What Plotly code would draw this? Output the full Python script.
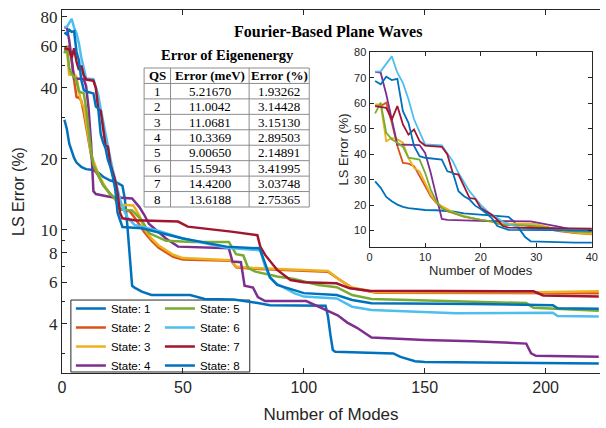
import plotly.graph_objects as go

# ---------------- data ----------------
s1_x = [1, 2, 3, 4, 5, 6, 7, 8, 9, 10, 12, 13, 15, 17, 20, 22, 25, 26, 27, 28, 29, 30, 33, 37, 53, 59, 71, 81, 86, 109, 110, 111, 112, 113, 125, 137, 140, 146, 150, 180, 222]
s1_y = [29.3, 26.8, 23.2, 21.5, 20.2, 19.3, 18.8, 18.5, 18.3, 18.1, 18.0, 17.9, 17.5, 16.8, 16.2, 16.0, 15.4, 13.5, 10.5, 7.5, 5.8, 5.7, 5.48, 5.3, 5.3, 5.1, 5.08, 4.9, 4.8, 4.78, 4.3, 3.6, 3.1, 3.05, 3.03, 3.0, 2.9, 2.78, 2.76, 2.75, 2.72]

s2_x = [1, 2, 3, 4, 5, 6, 7, 8, 9, 10, 11, 12, 13, 14, 15, 17, 20, 22, 24, 28, 30, 34, 37, 40, 46, 50, 70, 72, 79, 110, 115, 120, 130, 222]
s2_y = [58.9, 58.9, 60.2, 52.3, 43.2, 36.6, 36.3, 35.3, 31.4, 27.4, 23.5, 20.9, 18.9, 17.6, 17.0, 15.5, 14.2, 13.5, 12.3, 12.0, 11.3, 9.8, 9.0, 8.4, 7.7, 7.5, 7.4, 6.95, 6.85, 6.65, 6.14, 5.68, 5.42, 5.4]

s3_x = [1, 2, 3, 4, 5, 6, 7, 8, 9, 10, 11, 12, 13, 14, 15, 17, 20, 22, 24, 29.5, 32, 34, 37, 40, 46, 50, 70, 72, 79, 110, 115, 120, 130, 196, 222]
s3_y = [59.5, 59.5, 45.1, 46.4, 45.8, 44.5, 38.6, 34.6, 33.3, 28.7, 24.2, 21.1, 19.6, 18.5, 17.3, 15.8, 14.0, 13.5, 12.8, 12.7, 11.5, 10.1, 9.2, 8.6, 7.85, 7.6, 7.45, 7.0, 6.9, 6.7, 6.14, 5.7, 5.45, 5.45, 5.5]

s4_x = [1, 2, 3, 4, 5, 9, 10, 11, 12, 13, 14, 20, 29, 32, 34, 36, 40, 43, 48, 69, 70.5, 74, 75.5, 79, 81, 84, 101, 105, 110, 114, 118, 122, 128, 150, 170, 192, 194, 196, 222]
s4_y = [72.3, 72.0, 63.5, 53.6, 43.8, 43.6, 40.5, 32.7, 23.5, 14.6, 14.2, 13.8, 13.6, 12.5, 11.6, 10.6, 9.8, 9.2, 8.5, 8.36, 7.35, 7.3, 5.8, 5.7, 5.2, 5.0, 5.0, 4.8, 4.55, 4.35, 4.05, 3.85, 3.5, 3.42, 3.38, 3.3, 3.0, 2.93, 2.9]

s5_x = [1, 2, 3, 4, 5, 6, 7, 8, 9, 10, 11, 12, 13, 14, 15, 17, 20, 22, 24, 29, 33, 36, 43, 54, 69, 72, 75, 77, 80, 89, 96, 106, 113.6, 120, 128, 170, 192, 195, 222]
s5_y = [56.0, 60.2, 48.4, 45.8, 44.5, 42.9, 38.6, 38.2, 37.9, 32.7, 26.1, 21.5, 18.9, 17.8, 17.1, 15.5, 14.2, 13.6, 12.2, 12.1, 11.0, 9.7, 9.0, 8.9, 8.9, 7.9, 7.8, 6.9, 6.66, 6.35, 6.2, 5.85, 5.72, 5.3, 5.1, 4.97, 4.9, 4.68, 4.55]

s6_x = [1, 2, 4, 5, 6, 7, 8, 9, 10, 13, 14, 15, 16, 17, 18, 19, 20, 21, 22, 23, 24, 25, 27, 30, 35, 40, 50, 68, 82, 84, 86, 89, 96, 100, 113.6, 120, 128, 163, 203, 205, 222]
s6_y = [72.4, 72.5, 78.4, 72.0, 68.0, 61.6, 53.7, 48.4, 43.8, 43.5, 40.5, 37.2, 32.6, 28.7, 25.4, 22.8, 20.1, 18.0, 16.2, 14.9, 13.5, 12.5, 11.3, 10.5, 10.2, 9.9, 9.2, 8.4, 8.2, 7.0, 6.3, 5.9, 5.4, 5.22, 5.13, 4.73, 4.58, 4.44, 4.46, 4.32, 4.3]

s7_x = [1, 2, 3, 4, 5, 6, 7, 8, 9, 10, 13, 14, 15, 16, 17, 18, 19, 20, 21, 22, 23, 24, 25, 30, 48, 52, 70, 80.8, 82, 84, 89, 94.5, 100, 113.5, 119, 127, 195, 199, 222]
s7_y = [58.9, 58.6, 58.2, 53.6, 58.9, 51.7, 47.7, 49.7, 45.1, 43.4, 42.9, 39.9, 32.4, 32.0, 27.4, 22.8, 22.5, 18.9, 17.5, 16.2, 14.2, 11.8, 11.2, 11.0, 10.85, 10.33, 9.84, 9.5, 8.5, 7.84, 6.77, 6.14, 6.0, 5.94, 5.66, 5.53, 5.5, 5.28, 5.22]

s8_x = [1, 2, 3, 4, 5, 6, 7, 8, 9, 10, 13, 14, 15, 16, 17, 18, 19, 20, 21, 22, 23, 24, 25, 33, 50, 68, 81.7, 84, 86, 89, 96, 100, 113.6, 120, 128, 170, 203, 205, 222]
s8_y = [68.7, 67.4, 70.4, 69.1, 69.6, 56.9, 52.3, 43.2, 39.2, 38.6, 37.9, 33.3, 32.7, 25.5, 23.5, 22.2, 19.8, 18.5, 16.8, 14.9, 11.8, 10.9, 10.3, 10.16, 9.2, 8.5, 8.36, 7.22, 6.3, 5.85, 5.57, 5.4, 5.3, 5.05, 4.89, 4.86, 4.8, 4.66, 4.64]

state_names = ["State: 1", "State: 2", "State: 3", "State: 4",
               "State: 5", "State: 6", "State: 7", "State: 8"]
series_x = [s1_x, s2_x, s3_x, s4_x, s5_x, s6_x, s7_x, s8_x]
series_y = [s1_y, s2_y, s3_y, s4_y, s5_y, s6_y, s7_y, s8_y]
colors = ["#0072BD", "#D95319", "#EDB120", "#7E2F8E",
          "#77AC30", "#4DBEEE", "#A2142F", "#0072BD"]

# table
table_header = ["QS", "Error (meV)", "Error (%)"]
table_qs = ["1", "2", "3", "4", "5", "6", "7", "8"]
table_err_mev = ["5.21670", "11.0042", "11.0681", "10.3369",
                 "9.00650", "15.5943", "14.4200", "13.6188"]
table_err_pct = ["1.93262", "3.14428", "3.15130", "2.89503",
                 "2.14891", "3.41995", "3.03748", "2.75365"]

main_yticks = [4, 6, 8, 10, 20, 40, 60, 80]
main_yminor = [3, 5, 7, 9, 30, 50, 70]
main_xticks = [0, 50, 100, 150, 200]
inset_xticks = [0, 10, 20, 30, 40]
inset_yticks = [10, 20, 30, 40, 50, 60, 70, 80]

# ---------------- figure ----------------
AX = "#262626"
SANS = "Liberation Sans, Arial, sans-serif"
SERIF = "Liberation Serif, Times New Roman, serif"

fig = go.Figure()

for i in range(8):
    fig.add_trace(go.Scatter(
        x=series_x[i], y=series_y[i], mode="lines", name=state_names[i],
        line=dict(color=colors[i], width=2.5),
        xaxis="x", yaxis="y",
        legend="legend" if i < 4 else "legend2",
    ))

for i in range(8):
    fig.add_trace(go.Scatter(
        x=series_x[i], y=series_y[i], mode="lines", showlegend=False,
        line=dict(color=colors[i], width=1.8),
        xaxis="x2", yaxis="y2",
    ))

# ---- table drawn as a grid of text cells (paper coordinates) ----
TX0, TX1 = 0.1526, 0.4596     # table extent (paper x)
TY0, TY1 = 0.4573, 0.8402     # table extent (paper y)
col_w = [26.7, 79.3, 60.7]
edges = [0.0]
for w in col_w:
    edges.append(edges[-1] + w)
xe = [TX0 + e / edges[-1] * (TX1 - TX0) for e in edges]
columns = [table_qs, table_err_mev, table_err_pct]
nrows = len(table_qs) + 1
rh = (TY1 - TY0) / nrows
ye = [TY1 - r * rh for r in range(nrows + 1)]

shapes = [dict(type="rect", xref="paper", yref="paper", x0=TX0, x1=TX1, y0=TY0, y1=TY1,
               line=dict(color="#8c8c8c", width=1), fillcolor="white", layer="above")]
for yv in ye[1:-1]:
    shapes.append(dict(type="line", xref="paper", yref="paper", x0=TX0, x1=TX1, y0=yv, y1=yv,
                       line=dict(color="#8c8c8c", width=1), layer="above"))
for xv in xe[1:-1]:
    shapes.append(dict(type="line", xref="paper", yref="paper", x0=xv, x1=xv, y0=TY0, y1=TY1,
                       line=dict(color="#8c8c8c", width=1), layer="above"))

annotations = []
for c in range(3):
    xc = (xe[c] + xe[c + 1]) / 2
    annotations.append(dict(text="<b>" + table_header[c] + "</b>", xref="paper", yref="paper",
                            x=xc, y=(ye[0] + ye[1]) / 2, showarrow=False,
                            xanchor="center", yanchor="middle",
                            font=dict(family=SERIF, size=13, color="black")))
    for r, val in enumerate(columns[c]):
        annotations.append(dict(text=val, xref="paper", yref="paper",
                                x=xc, y=(ye[r + 1] + ye[r + 2]) / 2, showarrow=False,
                                xanchor="center", yanchor="middle",
                                font=dict(family=SERIF, size=13, color="black")))

annotations += [
    dict(text="<b>Fourier-Based Plane Waves</b>", xref="paper", yref="paper",
         x=0.4936, y=0.9402, showarrow=False, xanchor="center", yanchor="middle",
         font=dict(family=SERIF, size=16, color="black")),
    dict(text="<b>Error of Eigenenergy</b>", xref="paper", yref="paper",
         x=0.3075, y=0.876, showarrow=False, xanchor="center", yanchor="middle",
         font=dict(family=SERIF, size=14.5, color="black")),
]

# legend box
shapes.append(dict(type="rect", xref="paper", yref="paper",
                   x0=0.0165, x1=0.349, y0=0.0028, y1=0.201,
                   line=dict(color=AX, width=1), fillcolor="white", layer="below"))

fig.update_layout(
    width=606, height=428,
    margin=dict(l=62, r=0, t=10, b=55),
    paper_bgcolor="white", plot_bgcolor="white",
    xaxis=dict(domain=[0, 1], range=[0, 222.5], tickvals=main_xticks,
               ticks="inside", ticklen=5, tickcolor=AX, showline=True,
               linecolor=AX, linewidth=1.2, mirror="ticks", showgrid=False,
               zeroline=False, tickfont=dict(family=SANS, size=16, color=AX),
               title=dict(text="Number of Modes", standoff=12,
                          font=dict(family=SANS, size=17, color=AX))),
    yaxis=dict(type="log", range=[0.394, 1.932], tickvals=main_yticks,
               ticktext=[str(v) for v in main_yticks],
               ticks="inside", ticklen=5, tickcolor=AX, showline=True,
               linecolor=AX, linewidth=1.2, showgrid=False, zeroline=False,
               minor=dict(tickvals=main_yminor, ticks="inside", ticklen=3,
                          tickcolor=AX, showgrid=False),
               tickfont=dict(family=SERIF, size=17, color=AX),
               title=dict(text="LS Error (%)", standoff=11,
                          font=dict(family=SANS, size=16, color=AX))),
    xaxis2=dict(domain=[0.5717, 0.9848], anchor="y2", range=[0, 40],
                tickvals=inset_xticks, ticks="inside", ticklen=4, tickcolor=AX,
                showline=True, linecolor=AX, linewidth=1, mirror="ticks",
                showgrid=False, zeroline=False, ticklabeloverflow="allow",
                tickfont=dict(family=SANS, size=11, color=AX),
                title=dict(text="Number of Modes", standoff=2,
                           font=dict(family=SANS, size=13, color=AX))),
    yaxis2=dict(domain=[0.348, 0.8835], anchor="x2", range=[3.7, 80],
                tickvals=inset_yticks, ticks="inside", ticklen=4, tickcolor=AX,
                showline=True, linecolor=AX, linewidth=1, mirror="ticks",
                showgrid=False, zeroline=False,
                tickfont=dict(family=SANS, size=11, color=AX),
                title=dict(text="LS Error (%)", standoff=2,
                           font=dict(family=SANS, size=13, color=AX))),
    legend=dict(x=0.0165, y=0.2176, xanchor="left", yanchor="top",
                bgcolor="rgba(0,0,0,0)", borderwidth=0, tracegroupgap=0,
                itemwidth=30, font=dict(family=SANS, size=11.5, color="black")),
    legend2=dict(x=0.182, y=0.2176, xanchor="left", yanchor="top",
                 bgcolor="rgba(0,0,0,0)", borderwidth=0, tracegroupgap=0,
                 itemwidth=30, font=dict(family=SANS, size=11.5, color="black")),
    shapes=shapes,
    annotations=annotations,
)

fig.write_html("out.html", config={"displayModeBar": False},
               post_script="document.body.style.margin='0';")
